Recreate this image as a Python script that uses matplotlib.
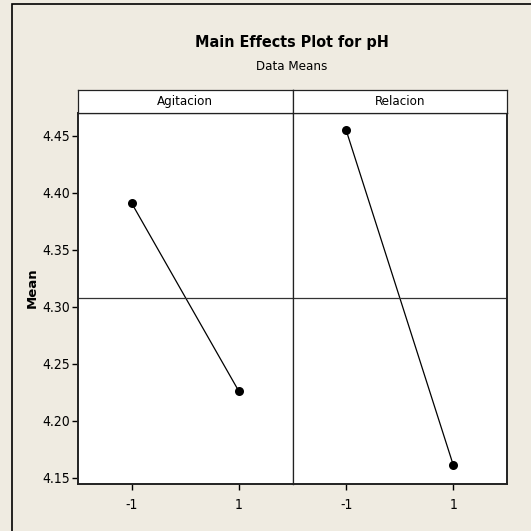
import matplotlib.pyplot as plt
from matplotlib.patches import Rectangle

# means of pH at each factor level
factors = ["Agitacion", "Relacion"]
levels = [-1, 1]
means = {"Agitacion": [4.391, 4.226], "Relacion": [4.455, 4.161]}
grand_mean = 4.308
yticks = [4.15, 4.20, 4.25, 4.30, 4.35, 4.40, 4.45]

W = H = 531
bg = "#efebe1"
fam = ["DejaVu Sans"]
st = "condensed"

fig = plt.figure(figsize=(W / 100, H / 100), dpi=100, facecolor=bg)

# outer frame
fig.patches.append(Rectangle((12 / W, -0.1), 1.2, (H - 4) / H + 0.1,
                             transform=fig.transFigure, fill=False,
                             edgecolor="black", linewidth=1.2))

fig.text(292 / W, 1 - 43 / H, "Main Effects Plot for pH", ha="center", va="center",
         fontsize=11.5, fontweight="bold", family=fam, fontstretch=st)
fig.text(292 / W, 1 - 67 / H, "Data Means", ha="center", va="center",
         fontsize=9.5, family=fam, fontstretch=st)

left, right, top, bottom, strip_top = 78, 507, 113, 484, 90
pw = (right - left) / 2

for i, f in enumerate(factors):
    x0 = left + i * pw
    ax = fig.add_axes([x0 / W, (H - bottom) / H, pw / W, (bottom - top) / H])
    ax.set_facecolor("white")
    ax.plot(levels, means[f], color="black", linewidth=0.9,
            marker="o", markersize=6.5, markeredgewidth=0)
    ax.axhline(grand_mean, color="#333333", linewidth=0.9)
    ax.set_xlim(-2, 2)
    ax.set_ylim(4.1447, 4.470)
    ax.set_xticks(levels)
    ax.set_xticklabels(["-1", "1"])
    ax.set_yticks(yticks)
    for s in ax.spines.values():
        s.set_color("#222222")
        s.set_linewidth(0.9)
    ax.spines["bottom"].set_linewidth(1.4)
    ax.tick_params(axis="x", length=4, width=1, pad=6, labelsize=10)
    if i == 0:
        ax.set_yticklabels([f"{v:.2f}" for v in yticks])
        ax.tick_params(axis="y", length=4, width=1, pad=2, labelsize=10)
        ax.spines["left"].set_linewidth(1.4)
        ax.set_ylabel("Mean", fontsize=9.5, fontweight="bold", family="DejaVu Sans")
        ax.yaxis.set_label_coords(-39 / pw, 0.53)
    else:
        ax.tick_params(axis="y", length=0, labelleft=False)
        ax.spines["right"].set_linewidth(1.4)
    for lab in ax.get_xticklabels() + ax.get_yticklabels():
        lab.set_family(fam)
        lab.set_fontstretch(st)

    # factor name strip
    sx = fig.add_axes([x0 / W, (H - top) / H, pw / W, (top - strip_top) / H])
    sx.set_facecolor("white")
    sx.set_xticks([])
    sx.set_yticks([])
    for s in sx.spines.values():
        s.set_color("#222222")
        s.set_linewidth(0.9)
    sx.text(0.5, 0.5, f, ha="center", va="center", fontsize=9.5, family=fam,
            fontstretch=st, transform=sx.transAxes)

fig.savefig("out.png", dpi=100, facecolor=bg)
